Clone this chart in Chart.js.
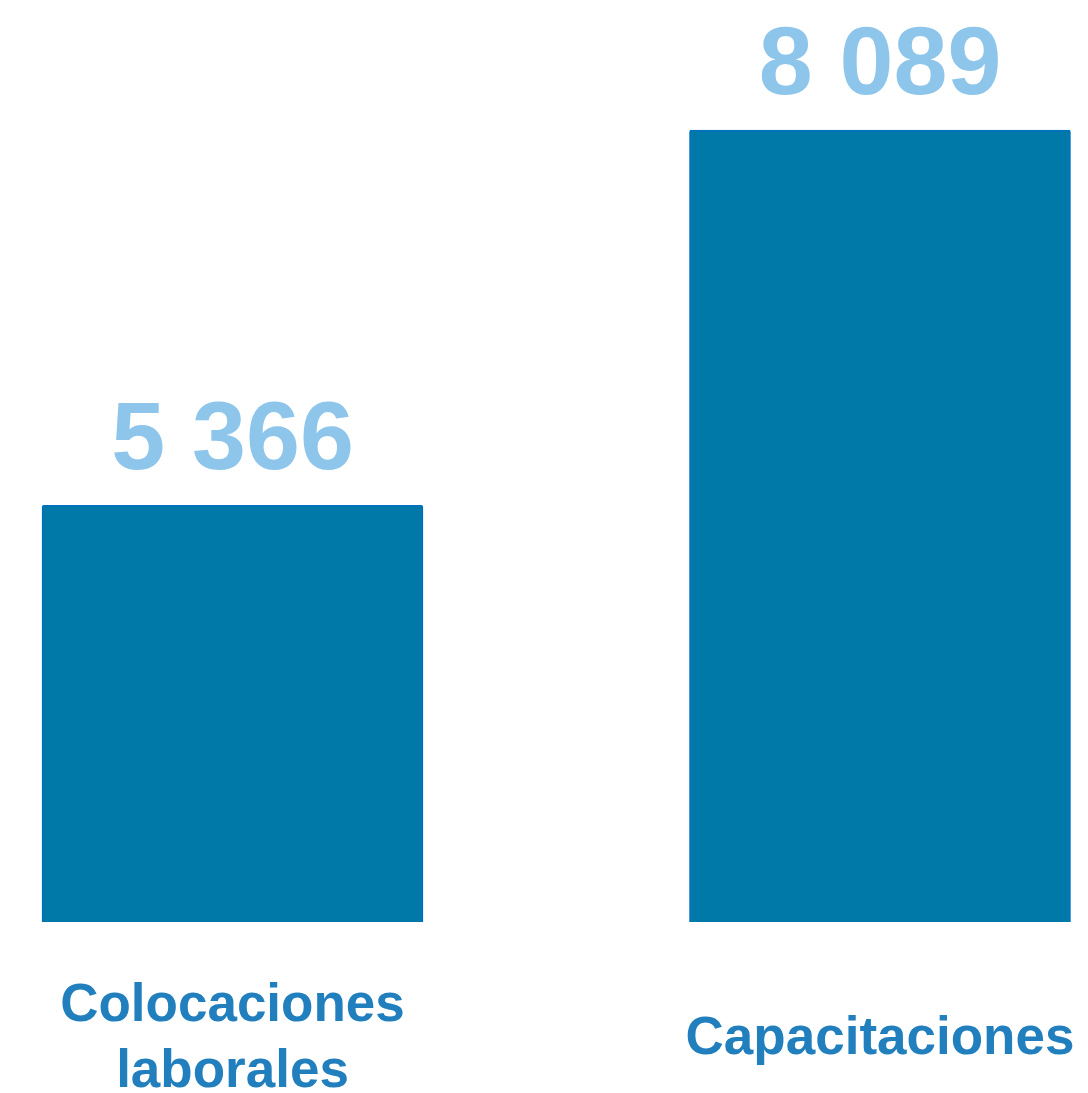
<!DOCTYPE html>
<html>
<head>
<meta charset="utf-8">
<script src="https://cdn.jsdelivr.net/npm/chart.js@4/dist/chart.umd.min.js"></script>
<style>
html, body { margin:0; padding:0; background:#fff; overflow:hidden; }
#wrap { position:relative; width:1088px; height:1138px; }
</style>
</head>
<body>
<div id="wrap"><canvas id="barChart"></canvas></div>
<script>
// ----------------------------
// DATA
// ----------------------------

const categories = [["Colocaciones", "laborales"], "Capacitaciones"]
const positions = [0, 1]
const values = [5366, 8089]

// axis ranges tuned to the picture
const yMin = 2342
const yMax = 9033
const xMin = -0.35907
const xMax = 1.32124

const barFill = "#0078a8"
const barEdge = "#0072bc"
const valueColor = "#8ec5eb"
const labelColor = "#217fbe"

function spaced(v){
    return String(v).replace(/\B(?=(\d{3})+(?!\d))/g, " ")
}

// ----------------------------
// VALUE LABELS ABOVE BARS
// ----------------------------

const valueLabels = {
    id: "valueLabels",
    afterDatasetsDraw(chart){
        const ctx = chart.ctx
        const meta = chart.getDatasetMeta(0)
        ctx.save()
        ctx.font = "bold 97px 'Liberation Sans', Arial, sans-serif"
        ctx.fillStyle = valueColor
        ctx.textAlign = "center"
        ctx.textBaseline = "alphabetic"
        meta.data.forEach((bar, i)=>{
            ctx.fillText(spaced(values[i]), bar.x, bar.y - 36)
        })
        ctx.restore()
    }
}

const ctx = document.getElementById("barChart").getContext("2d")

new Chart(ctx, {
    type: "bar",
    data: {
        datasets: [{
            data: positions.map((p, i)=>({ x: p, y: values[i] })),
            backgroundColor: barFill,
            borderColor: barEdge,
            borderWidth: 2,
            borderRadius: 2,
            borderSkipped: false,
            barThickness: 381
        }]
    },
    options: {
        responsive: true,
        maintainAspectRatio: false,
        animation: false,
        layout: { padding: 0 },
        plugins: {
            legend: { display: false },
            tooltip: { enabled: false }
        },
        scales: {
            x: {
                type: "linear",
                min: xMin,
                max: xMax,
                offset: false,
                grid: { display: true, drawOnChartArea: false, drawTicks: true, tickLength: 84, color: "rgba(0,0,0,0)" },
                border: { display: false },
                afterBuildTicks: s => { s.ticks = positions.map(p=>({ value: p })) },
                ticks: {
                    autoSkip: false,
                    maxRotation: 0,
                    padding: 0,
                    crossAlign: "center",
                    color: labelColor,
                    font: { family: "'Liberation Sans', Arial, sans-serif", size: 53, weight: "bold", lineHeight: 1.245 },
                    callback: v => categories[positions.indexOf(v)]
                }
            },
            y: {
                display: false,
                min: yMin,
                max: yMax
            }
        }
    },
    plugins: [valueLabels]
})
</script>
</body>
</html>
